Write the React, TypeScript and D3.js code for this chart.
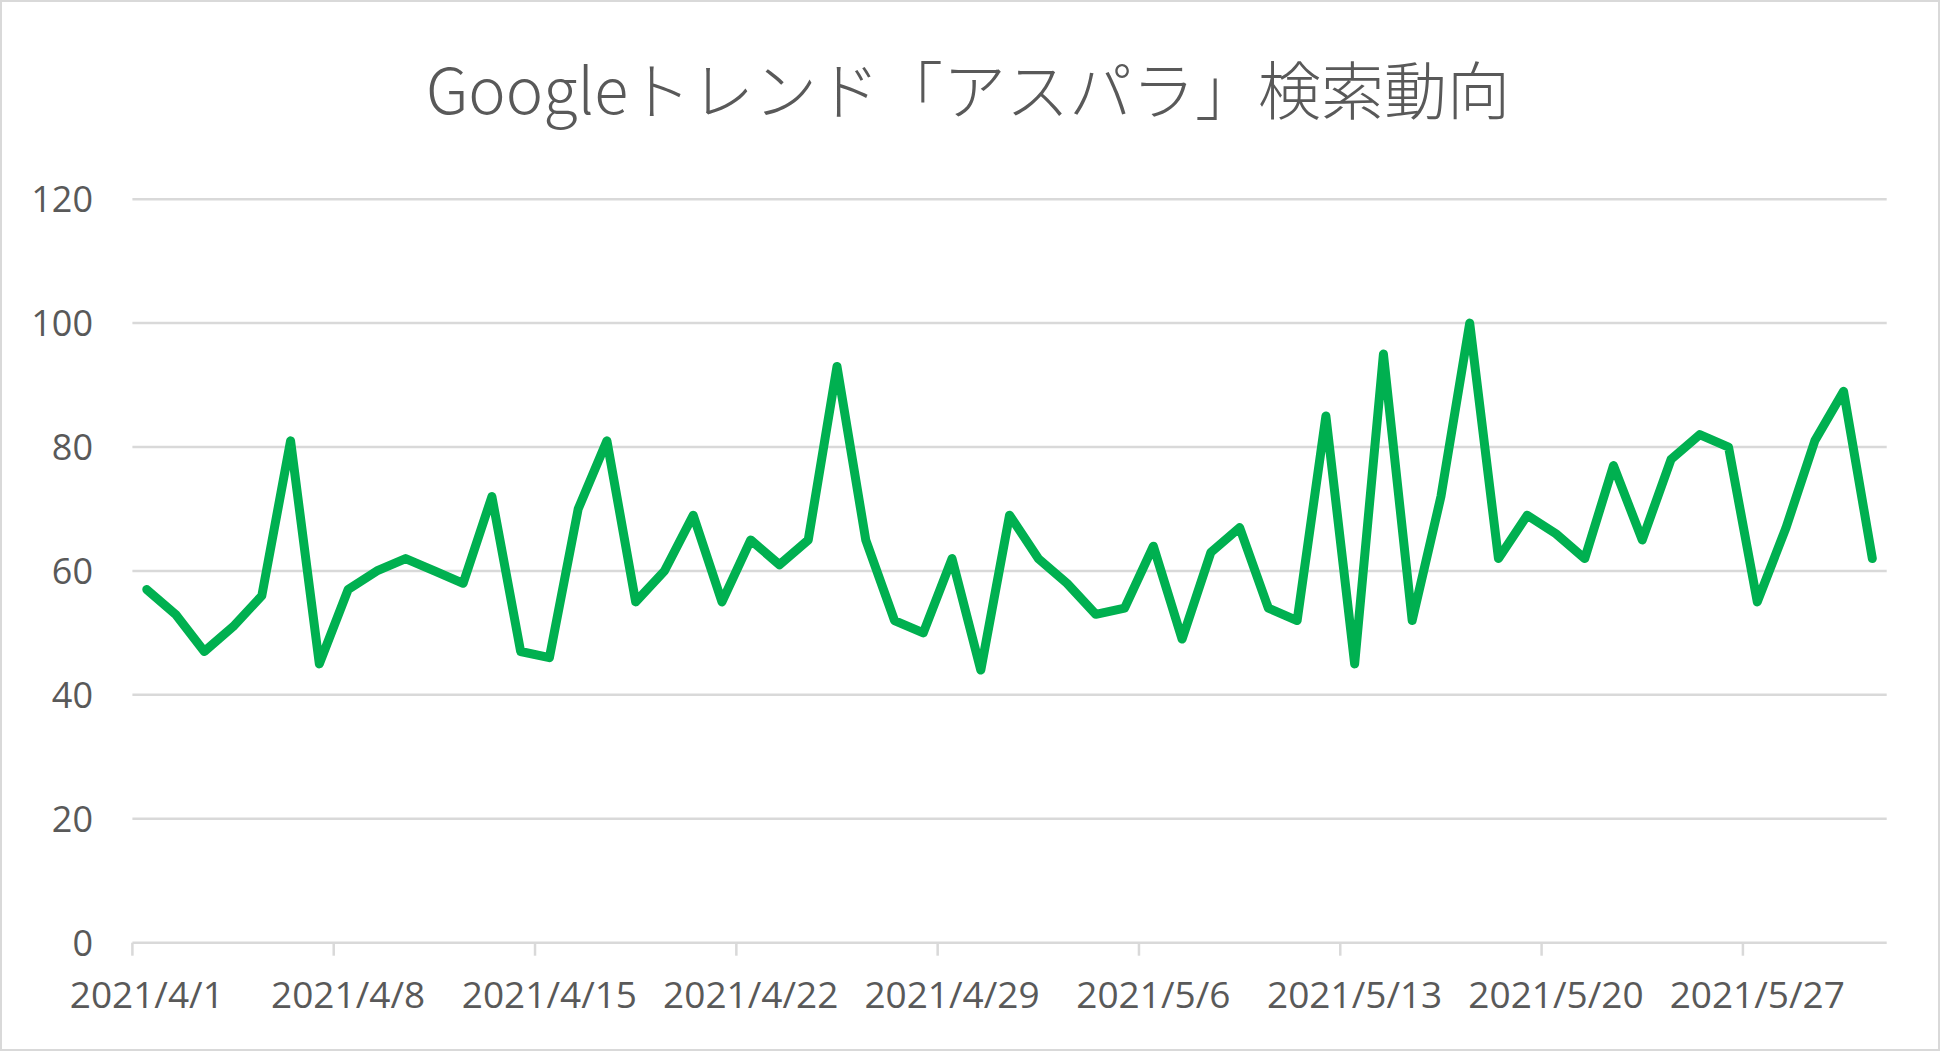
import React from "react";
import * as d3 from "d3";

const TITLE = "Googleトレンド「アスパラ」検索動向";

const values: number[] = [
  57, 53, 47, 51, 56, 81, 45, 57, 60, 62, 60, 58, 72, 47, 46, 70, 81,
  55, 60, 69, 55, 65, 61, 65, 93, 65, 52, 50, 62, 44, 69, 62, 58,
  53, 54, 64, 49, 63, 67, 54, 52, 85, 45, 95, 52, 72, 100, 62, 69,
  66, 62, 77, 65, 78, 82, 80, 55, 67, 81, 89, 62,
];

const startDate = new Date(2021, 3, 1);
const dates: Date[] = values.map((_, i) => d3.timeDay.offset(startDate, i));
const yTicks: number[] = [0, 20, 40, 60, 80, 100, 120];
const fmt = (d: Date) => `${d.getFullYear()}/${d.getMonth() + 1}/${d.getDate()}`;

const W = 1940;
const H = 1051;
const left = 132.4;
const right = 1886.7;
const top = 199.2;
const bottom = 942.7;

export default function App() {
  const x = d3
    .scaleBand<string>()
    .domain(dates.map(fmt))
    .range([left, right])
    .padding(0);
  const y = d3.scaleLinear().domain([0, 120]).range([bottom, top]);
  const line = d3
    .line<number>()
    .x((_, i) => (x(fmt(dates[i])) as number) + x.bandwidth() / 2)
    .y((v) => y(v));
  const tickDates = dates.filter((_, i) => i % 7 === 0);
  const textColor = "#595959";
  const grid = "#d9d9d9";
  return (
    <div style={{ position: "absolute", left: 0, top: 0 }}>
      <svg width={W} height={H} style={{ display: "block", background: "#fff" }}>
        <rect x={1} y={1} width={W - 2} height={H - 2} fill="#fff" stroke={grid} strokeWidth={2} />
        <text
          x={968}
          y={114}
          textAnchor="middle"
          fill={textColor}
          fontFamily="'Noto Sans CJK JP', 'Open Sans', sans-serif"
          fontSize={63}
          fontWeight={300}
        >
          {TITLE}
        </text>
        {yTicks.map((t) => (
          <g key={t}>
            <line x1={left} x2={right} y1={y(t)} y2={y(t)} stroke={grid} strokeWidth={2.5} />
            <text
              x={93}
              y={y(t)}
              dy="0.36em"
              textAnchor="end"
              fill={textColor}
              fontFamily="'Open Sans', sans-serif"
              fontSize={36}
            >
              {t}
            </text>
          </g>
        ))}
        {tickDates.map((d) => {
          const x0 = x(fmt(d)) as number;
          return (
            <g key={fmt(d)}>
              <line x1={x0} x2={x0} y1={bottom} y2={bottom + 13} stroke={grid} strokeWidth={2.5} />
              <text
                x={x0 + x.bandwidth() / 2}
                y={1008}
                textAnchor="middle"
                fill={textColor}
                fontFamily="'Open Sans', sans-serif"
                fontSize={37}
              >
                {fmt(d)}
              </text>
            </g>
          );
        })}
        <path
          d={line(values) || ""}
          fill="none"
          stroke="#00b050"
          strokeWidth={9}
          strokeLinejoin="round"
          strokeLinecap="round"
        />
      </svg>
    </div>
  );
}
